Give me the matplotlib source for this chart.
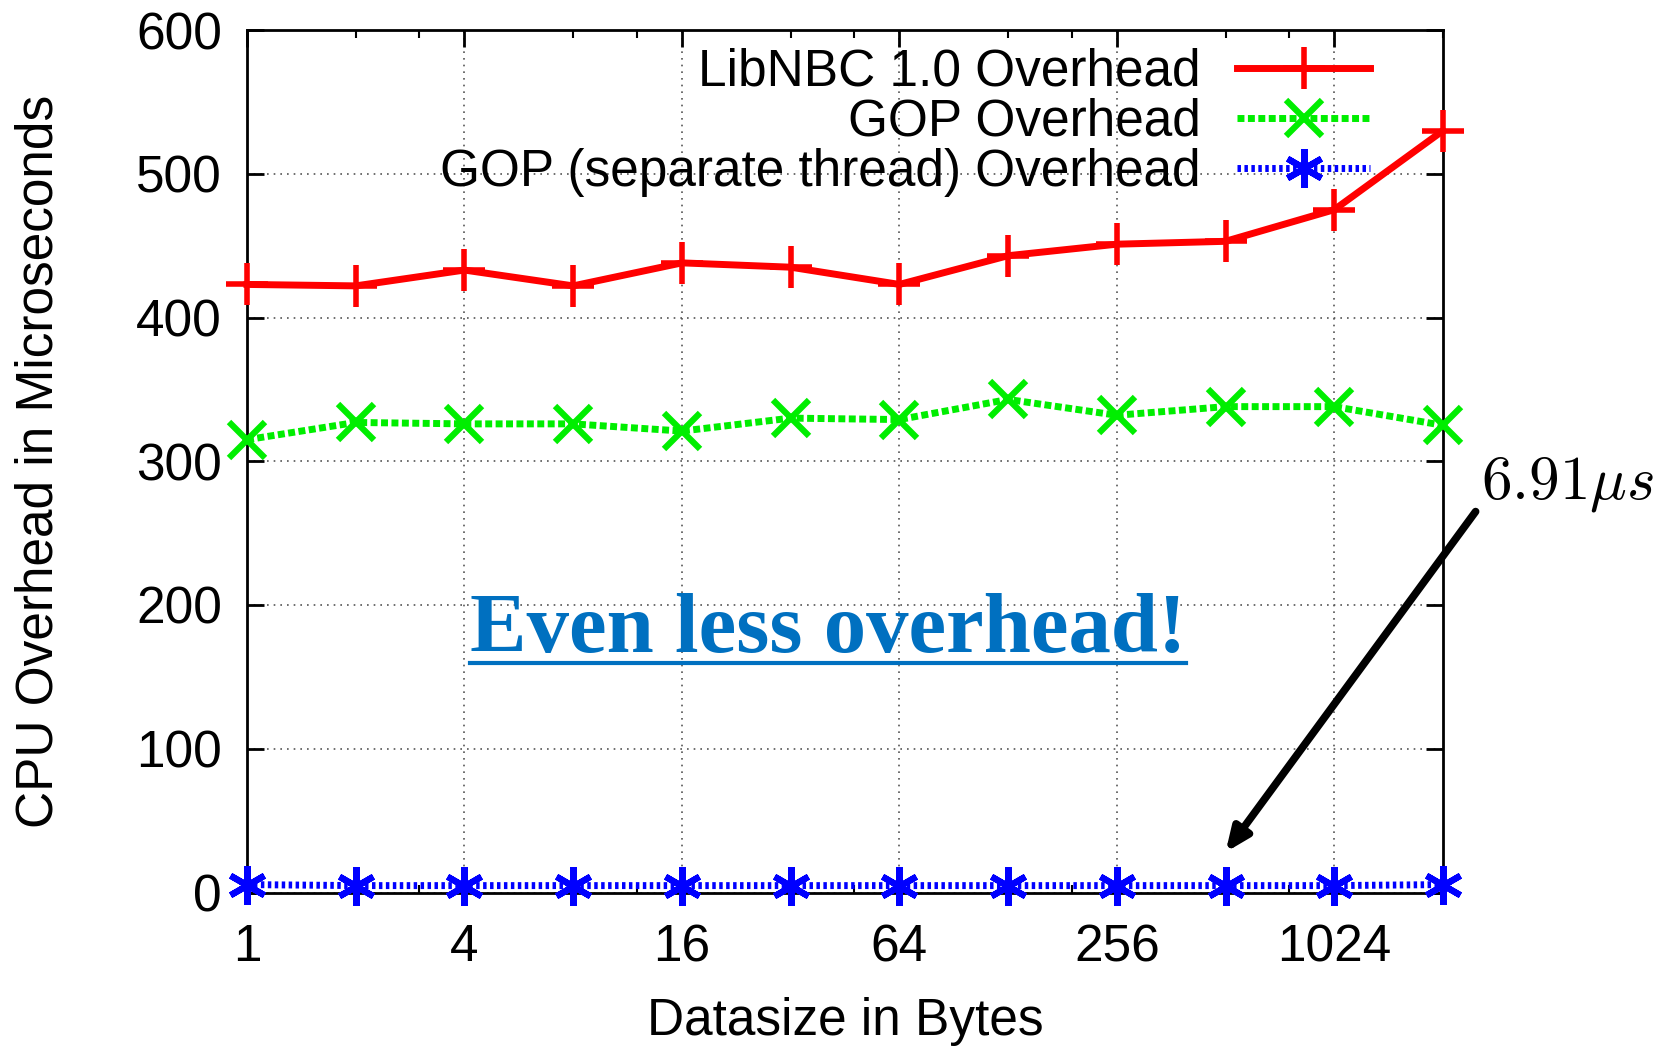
import matplotlib
matplotlib.use('Agg')
import matplotlib.pyplot as plt
import matplotlib.ticker as mticker
from matplotlib.lines import Line2D

plt.rcParams['font.family'] = ['Liberation Sans', 'DejaVu Sans']
plt.rcParams['mathtext.fontset'] = 'cm'

# Data
datasize = [1, 2, 4, 8, 16, 32, 64, 128, 256, 512, 1024, 2048]
libnbc = [423, 422, 433, 422, 438, 435, 423, 443, 451, 453, 475, 530]
gop = [315, 327, 326, 326, 321, 330, 329, 343, 332, 338, 338, 325]
gop_thread = [5.5, 4.8, 4.8, 4.8, 4.8, 4.8, 4.8, 4.8, 4.8, 4.8, 4.8, 5.5]
labels = ['LibNBC 1.0 Overhead', 'GOP Overhead', 'GOP (separate thread) Overhead']

W, H = 1676, 1048
fig = plt.figure(figsize=(W / 100, H / 100), dpi=100)
ax = fig.add_axes([247 / W, 1 - 892.5 / H, (1443 - 247) / W, (892.5 - 30) / H])

asterisk = (6, 2, 0)
ax.plot(datasize, libnbc, color='#ff0000', lw=5, marker='+', ms=30, mew=4,
        label=labels[0], clip_on=False, zorder=5)
ax.plot(datasize, gop, color='#00ee00', lw=5, ls=(0, (1.0, 0.5)), marker='x', ms=26, mew=4.5,
        label=labels[1], clip_on=False, zorder=5)
ax.plot(datasize, gop_thread, color='#0000ff', lw=5, ls=(0, (0.5, 0.5)), marker=asterisk,
        ms=28, mew=4.5, label=labels[2], clip_on=False, zorder=5)

ax.set_xscale('log', base=2)
ax.set_xlim(1, 2048)
ax.set_ylim(0, 600)
ax.xaxis.set_major_locator(mticker.FixedLocator([1, 4, 16, 64, 256, 1024]))
ax.xaxis.set_major_formatter(mticker.FixedFormatter(['1', '4', '16', '64', '256', '1024']))
ax.xaxis.set_minor_locator(mticker.LogLocator(base=4, subs=[2, 3], numticks=20))
ax.xaxis.set_minor_formatter(mticker.NullFormatter())
ax.yaxis.set_major_locator(mticker.MultipleLocator(100))

ax.tick_params(which='major', direction='in', length=12, width=2, labelsize=37,
               top=True, right=True, pad=22)
ax.tick_params(which='minor', direction='in', length=6, width=1.5, top=True)
ax.tick_params(axis='y', pad=18)
for s in ax.spines.values():
    s.set_linewidth(2)

ax.grid(True, which='major', color='#555555', ls=(0, (1, 3)), lw=1.2)

ax.set_xlabel('Datasize in Bytes', fontsize=37, labelpad=18)
ax.set_ylabel('CPU Overhead in Microseconds', fontsize=37, labelpad=52)

leg = ax.legend(loc='upper right', frameon=False, markerfirst=False, fontsize=37,
                handlelength=2.6, handletextpad=0.7, labelspacing=0.02,
                borderaxespad=0.2, bbox_to_anchor=(0.965, 1.015))

# Annotation arrow
ax.annotate('', xy=(512, 28), xytext=(2048 * 2 ** 0.3, 265),
            arrowprops=dict(arrowstyle='-|>,head_length=1.4,head_width=0.6',
                            color='black', lw=5.5, shrinkA=0, shrinkB=0),
            annotation_clip=False)
fig.text(1568 / W, 1 - 484 / H, r'$6.91\mu s$', fontsize=44, ha='center', va='center')

# "Even less overhead!" with underline
t = fig.text(828 / W, 1 - 652 / H, 'Even less overhead!', fontsize=61, fontweight='bold',
             family='Liberation Serif', color='#0070c0', ha='center', va='baseline')
fig.canvas.draw()
bb = t.get_window_extent()
uy = (H - 663) / H
fig.add_artist(Line2D([bb.x0 / W, bb.x1 / W], [uy, uy], color='#0070c0', lw=3,
                      transform=fig.transFigure))

fig.savefig('out.png', dpi=100)
